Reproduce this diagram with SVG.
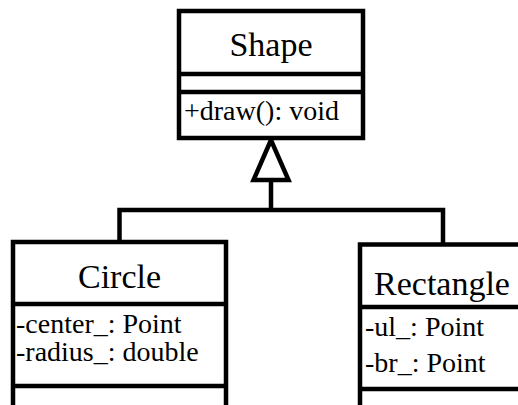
<svg xmlns="http://www.w3.org/2000/svg" width="518" height="405" viewBox="0 0 518 405">
<style>
.box{fill:#fff;stroke:#000;stroke-width:4.5}
.sep{stroke:#000;stroke-width:4.5;fill:none}
.conn{stroke:#000;stroke-width:4.5;fill:none}
.title{font-family:"Liberation Serif",serif;font-size:34px;fill:#000}
.attr{font-family:"Liberation Serif",serif;font-size:28px;fill:#000}
</style>
<rect width="518" height="405" fill="#fff"/>
<g id="connectors">
<polyline class="conn" points="119.5,242 119.5,210 443,210 443,244.5"/>
<line class="conn" x1="271" y1="210" x2="271" y2="180"/>
<polygon class="conn" points="271,140 253.5,180 288.5,180" style="fill:#fff"/>
</g>
<g id="Shape">
<rect class="box" x="179" y="11" width="184" height="127"/>
<line class="sep" x1="179" y1="74" x2="363" y2="74"/>
<line class="sep" x1="179" y1="92" x2="363" y2="92"/>
<text class="title" x="271" y="56" text-anchor="middle">Shape</text>
<text class="attr" x="184" y="120">+draw(): void</text>
</g>
<g id="Circle">
<rect class="box" x="13" y="242" width="213" height="180"/>
<line class="sep" x1="13" y1="304" x2="226" y2="304"/>
<line class="sep" x1="13" y1="386" x2="226" y2="386"/>
<text class="title" x="119.5" y="288" text-anchor="middle">Circle</text>
<text class="attr" x="16" y="333">-center_: Point</text>
<text class="attr" x="16" y="361">-radius_: double</text>
</g>
<g id="Rectangle">
<rect class="box" x="360" y="244.5" width="166" height="180"/>
<line class="sep" x1="360" y1="307" x2="526" y2="307"/>
<line class="sep" x1="360" y1="389" x2="526" y2="389"/>
<text class="title" x="442" y="295" text-anchor="middle">Rectangle</text>
<text class="attr" x="365" y="336">-ul_: Point</text>
<text class="attr" x="365" y="372">-br_: Point</text>
</g>
</svg>
